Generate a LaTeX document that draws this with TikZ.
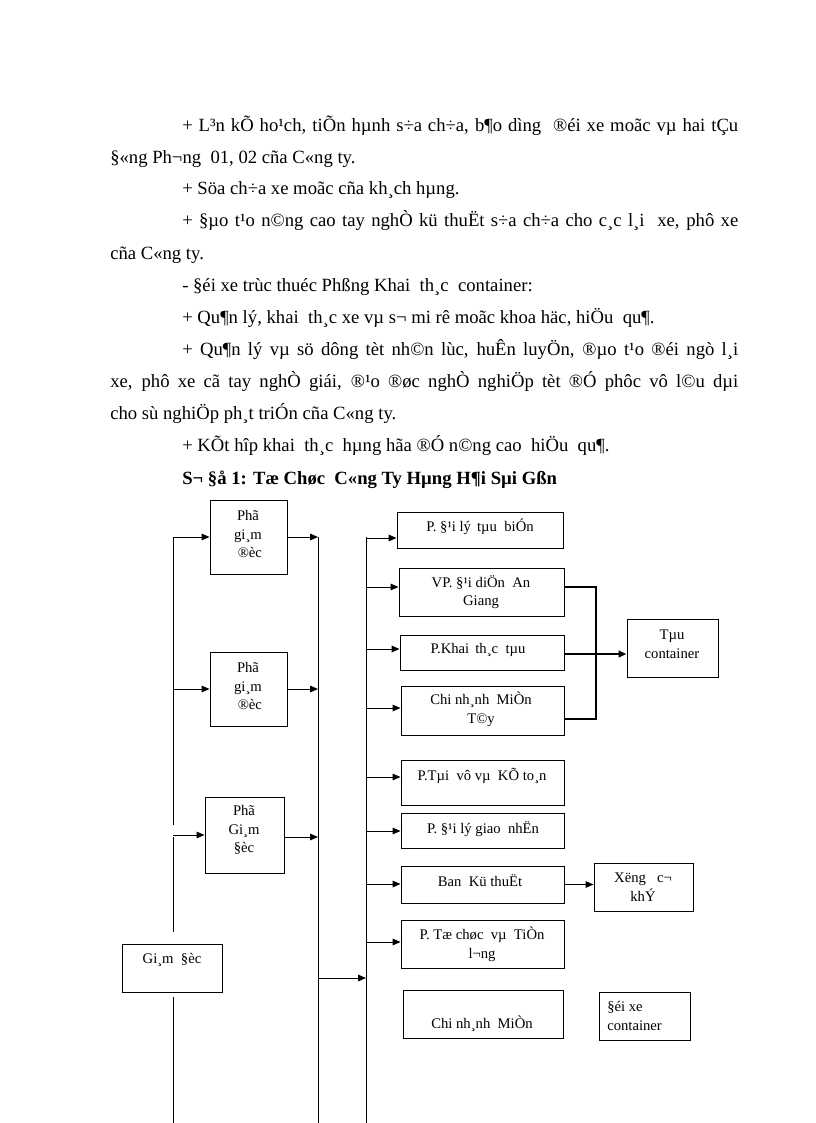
\documentclass[tikz,border=0pt]{standalone}
\usepackage{fontspec}
\setmainfont{Liberation Serif}
\usetikzlibrary{arrows.meta,fit}
\begin{document}
\begin{tikzpicture}[x=0.75pt,y=-0.75pt,
  box/.style={draw, line width=0.75pt, inner sep=0pt},
  ln/.style={line width=0.75pt},
  thk/.style={line width=1.8pt},
  arr/.style={ln, -{Triangle[length=6pt,width=5pt]}},
  tarr/.style={thk, -{Triangle[length=6pt,width=5pt]}},
  btxt/.style={font=\fontsize{11}{14}\selectfont, align=center, inner sep=0pt},
  ltxt/.style={font=\fontsize{11}{14.5}\selectfont, align=left, inner sep=0pt},
  body/.style={font=\fontsize{14}{16}\selectfont, anchor=base west, inner sep=0pt},
  title/.style={font=\fontsize{14}{16}\selectfont\bfseries, anchor=base west, inner sep=0pt}]
\useasboundingbox (0,0) rectangle (816,1123);
\fill[white] (0,0) rectangle (816,1123);

% ---- body text ----
\node[body] (t1) at (182,132) {\makebox[417pt][s]{+ L³n kÕ ho¹ch, tiÕn hµnh s÷a ch÷a, b¶o dìng \ ®éi xe moãc vµ hai tÇu}};
\node[body] (t2) at (110,164) {§«ng Ph¬ng \ 01, 02 cña C«ng ty.};
\node[body] (t3) at (182,195) {+ Söa ch÷a xe moãc cña kh¸ch hµng.};
\node[body] (t4) at (182,227) {\makebox[417pt][s]{+ §µo t¹o n©ng cao tay nghÒ kü thuËt s÷a ch÷a cho c¸c l¸i \ xe, phô xe}};
\node[body] (t5) at (110,259) {cña C«ng ty.};
\node[body] (t6) at (182,291) {- §éi xe trùc thuéc Phßng Khai \ th¸c \ container:};
\node[body] (t7) at (182,323) {+ Qu¶n lý, khai \ th¸c xe vµ s¬ mi rê moãc khoa häc, hiÖu \ qu¶.};
\node[body] (t8) at (182,355) {\makebox[417pt][s]{+ Qu¶n lý vµ sö dông tèt nh©n lùc, huÊn luyÖn, ®µo t¹o ®éi ngò l¸i}};
\node[body] (t9) at (110,387) {\makebox[471pt][s]{xe, phô xe cã tay nghÒ giái, ®¹o ®øc nghÒ nghiÖp tèt ®Ó phôc vô l©u dµi}};
\node[body] (t10) at (110,419) {cho sù nghiÖp ph¸t triÓn cña C«ng ty.};
\node[body] (t11) at (182,451) {+ KÕt hîp khai \ th¸c \ hµng hãa ®Ó n©ng cao \ hiÖu \ qu¶.};
\node[title] (t12) at (182,484) {S¬ §å 1: Tæ Chøc \ C«ng Ty Hµng H¶i Sµi Gßn};

% ---- boxes ----
\node[box, fit={(210,500) (287,574)}] (pg1) {};
\node[box, fit={(210,652) (287,726)}] (pg2) {};
\node[box, fit={(205,797) (284,873)}] (pg3) {};
\node[box, fit={(122,944) (222,992)}] (gd) {};
\node[box, fit={(397,512) (563,548)}] (tb) {};
\node[box, fit={(399,568) (564,616)}] (vp) {};
\node[box, fit={(400,635) (564,670)}] (pk) {};
\node[box, fit={(401,686) (564,735)}] (cnt) {};
\node[box, fit={(401,760) (564,805)}] (tv) {};
\node[box, fit={(401,813) (564,848)}] (gn) {};
\node[box, fit={(401,866) (564,903)}] (kt) {};
\node[box, fit={(401,920) (564,968)}] (tc) {};
\node[box, fit={(403,990) (563,1038)}] (cnm) {};
\node[box, fit={(599,992) (690,1040)}] (dx) {};
\node[box, fit={(627,619) (718,677)}] (tcont) {};
\node[box, fit={(594,863) (693,911)}] (xg) {};

% ---- box texts ----
\node[btxt] (pg1t) at (248,534) {Phã\\gi¸m\\ \ ®èc};
\node[btxt] (pg2t) at (248,686) {Phã\\gi¸m\\ \ ®èc};
\node[btxt] (pg3t) at (244,830) {Phã\\Gi¸m\\§èc};
\node[btxt] (gdt) at (172,960) {Gi¸m \ §èc};
\node[btxt] (tbt) at (480,527) {P. §¹i lý \,tµu \ biÓn};
\node[btxt] (vpt) at (481,592) {VP. §¹i diÖn \ An\\Giang};
\node[btxt] (pkt) at (478,650) {P.Khai \,th¸c \ tµu};
\node[btxt] (cntt) at (481,709) {Chi nh¸nh \ MiÒn\\T©y};
\node[btxt] (tvt) at (482,776) {P.Tµi \ vô vµ \ KÕ to¸n};
\node[btxt] (gnt) at (483,829) {P. §¹i lý giao \ nhËn};
\node[btxt] (ktt) at (480,881) {Ban \ Kü thuËt};
\node[btxt] (tct) at (482,944) {P. Tæ chøc \ vµ \ TiÒn\\l¬ng};
\node[btxt] (cnmt) at (482,1024) {Chi nh¸nh \ MiÒn};
\node[ltxt, anchor=west] (dxt) at (607,1016) {§éi xe\\container};
\node[btxt] (tcontt) at (672,644) {Tµu\\container};
\node[btxt] (xgt) at (643,887) {Xëng \ \ c¬\\khÝ};

% ---- trunk lines ----
\coordinate (a1) at (173,537);
\coordinate (a2) at (173,825);
\coordinate (a3) at (173,837);
\coordinate (a4) at (173,932);
\coordinate (b1) at (318,537);
\coordinate (b2) at (318,1123);
\coordinate (c1) at (366,537);
\coordinate (c2) at (366,1123);
\coordinate (g1) at (173,997);
\coordinate (g2) at (173,1123);
\draw[ln] (a1) -- (a2);
\draw[ln] (a3) -- (a4);
\draw[ln] (b1) -- (b2);
\draw[ln] (c1) -- (c2);
\draw[ln] (g1) -- (g2);

% left trunk to deputy boxes
\draw[arr] (a1 |- pg1.west) -- (pg1.west);
\draw[arr] (a1 |- pg2.west) -- (pg2.west);
\draw[arr] (a1 |- pg3.west) -- (pg3.west);
% deputy boxes to middle trunk
\draw[arr] (pg1.east) -- (pg1.east -| b1);
\draw[arr] (pg2.east) -- (pg2.east -| b1);
\draw[arr] ([yshift=-1.5pt]pg3.east) -- ([yshift=-1.5pt]pg3.east -| b1);
% middle trunk to right trunk
\coordinate (bm) at (318,978);
\draw[arr] (bm) -- (bm -| c1);

% right trunk to departments
\coordinate (ctb) at (366,538);
\coordinate (cvp) at (366,587);
\coordinate (cpk) at (366,649);
\coordinate (ccnt) at (366,708);
\coordinate (ctv) at (366,777);
\coordinate (cgn) at (366,831);
\coordinate (ckt) at (366,884);
\coordinate (ctc) at (366,942);
\draw[arr] (ctb) -- (ctb -| tb.west);
\draw[arr] (cvp) -- (cvp -| vp.west);
\draw[arr] (cpk) -- (cpk -| pk.west);
\draw[arr] (ccnt) -- (ccnt -| cnt.west);
\draw[arr] (ctv) -- (ctv -| tv.west);
\draw[arr] (cgn) -- (cgn -| gn.west);
\draw[arr] (ckt) -- (ckt -| kt.west);
\draw[arr] (ctc) -- (ctc -| tc.west);

% Ban Ky thuat to Xuong
\draw[arr] (kt.east) -- (kt.east -| xg.west);

% bracket to Tau container
\coordinate (vpR) at (564,587);
\coordinate (brT) at (596,587);
\coordinate (brB) at (596,719);
\coordinate (cnR) at (564,719);
\draw[thk] (vpR) -- (brT) -- (brB) -- (cnR);
\coordinate (pkR) at (564,654);
\draw[tarr] (pkR) -- (pkR -| tcont.west);
\end{tikzpicture}
\end{document}
